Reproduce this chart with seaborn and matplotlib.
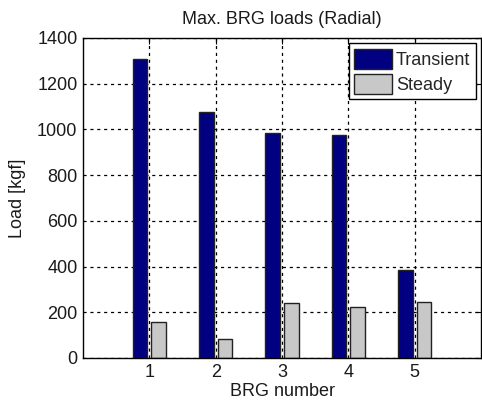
import matplotlib
matplotlib.use("Agg")
import matplotlib.pyplot as plt
import seaborn as sns
import pandas as pd

brg = ["1", "2", "3", "4", "5"]
transient = [1308, 1077, 984, 974, 384]
steady = [159, 82, 242, 225, 246]
series_names = ["Transient", "Steady"]
colors = ["#000080", "#c8c8c8"]

df = pd.DataFrame({
    "BRG": brg * 2,
    "Load": transient + steady,
    "Series": [series_names[0]] * len(brg) + [series_names[1]] * len(brg),
})

sns.set_style("white")
plt.rcParams["font.family"] = ["Liberation Sans", "DejaVu Sans"]
plt.rcParams["font.size"] = 13

fig = plt.figure(figsize=(4.82, 4.04), dpi=100)
ax = fig.add_axes([83 / 482, 1 - 358 / 404, 398 / 482, 320 / 404])

sns.barplot(data=df, x="BRG", y="Load", hue="Series", order=brg,
            hue_order=series_names, palette=colors, width=0.56, gap=0.2,
            edgecolor="#222222", linewidth=1.0, saturation=1, ax=ax,
            errorbar=None)

ax.set_xlim(-1, 5)
ax.set_ylim(0, 1400)
ax.set_yticks(range(0, 1401, 200))
ax.set_axisbelow(True)
ax.grid(True, color="black", linestyle=(0, (2.5, 3)), linewidth=0.9)
for s in ax.spines.values():
    s.set_visible(True)
    s.set_color("black")
    s.set_linewidth(1.0)
ax.tick_params(direction="in", length=4, color="black", labelsize=13,
               top=True, right=True, pad=4, labelcolor="#1a1a1a")

ax.set_title("Max. BRG loads (Radial)", fontsize=13, pad=10, color="#1a1a1a")
ax.set_xlabel("BRG number", fontsize=13, labelpad=2, color="#1a1a1a")
ax.set_ylabel("Load [kgf]", fontsize=13, labelpad=8, color="#1a1a1a")

leg = ax.legend(loc="upper right", fontsize=13, frameon=True, fancybox=False,
                edgecolor="black", framealpha=1, handlelength=2.1,
                handleheight=1.3, handletextpad=0.2, borderpad=0.3,
                labelspacing=0.3, borderaxespad=0.3)
leg.get_frame().set_linewidth(1.0)

fig.savefig("out.png", dpi=100)
